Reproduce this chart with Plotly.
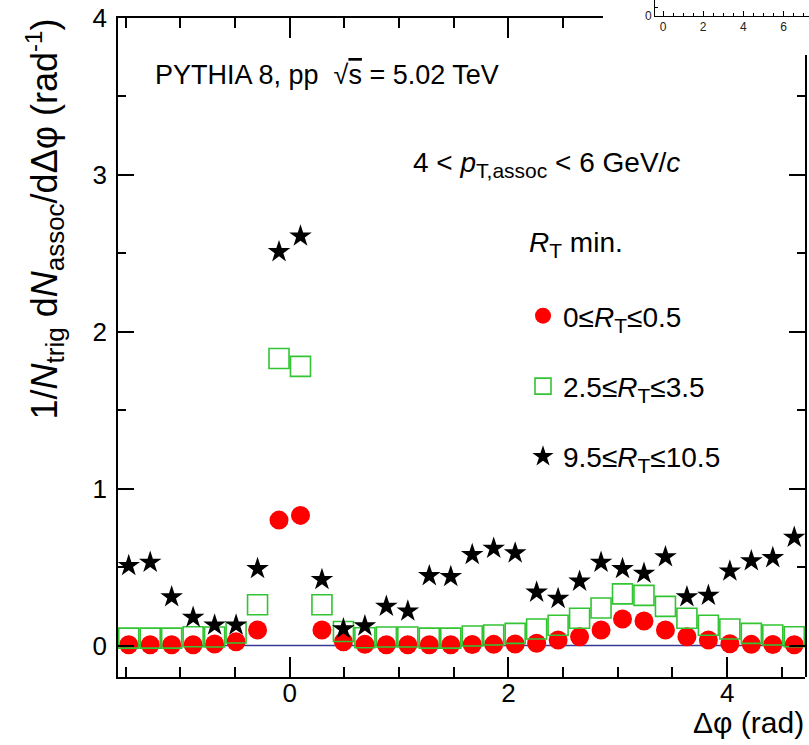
import numpy as np
import plotly.graph_objects as go

# ---------------- data ----------------
n_bins = 32
bin_edges = np.linspace(-np.pi / 2, 3 * np.pi / 2, n_bins + 1)
dphi = 0.5 * (bin_edges[:-1] + bin_edges[1:])

rt_low = [0.005, 0.005, 0.005, 0.005, 0.01, 0.025, 0.10, 0.80, 0.83, 0.10, 0.025, 0.008,
          0.005, 0.005, 0.005, 0.005, 0.007, 0.008, 0.01, 0.015, 0.036, 0.057, 0.10, 0.17,
          0.157, 0.10, 0.057, 0.036, 0.012, 0.008, 0.007, 0.005]
rt_mid = [0.048, 0.048, 0.048, 0.057, 0.055, 0.08, 0.26, 1.83, 1.78, 0.26, 0.09, 0.05,
          0.055, 0.055, 0.048, 0.048, 0.061, 0.068, 0.078, 0.106, 0.13, 0.174, 0.24, 0.33,
          0.32, 0.25, 0.174, 0.13, 0.106, 0.078, 0.068, 0.057]
rt_high = [0.51, 0.53, 0.31, 0.18, 0.13, 0.13, 0.49, 2.51, 2.61, 0.42, 0.106, 0.125,
           0.25, 0.22, 0.445, 0.44, 0.58, 0.62, 0.59, 0.34, 0.30, 0.41, 0.53, 0.49,
           0.46, 0.565, 0.31, 0.32, 0.475, 0.54, 0.56, 0.69]

SUB = '<sub><span style="font-size:21px">{}</span></sub>'
series_names = ["0≤<i>R</i>" + SUB.format("T") + "≤0.5",
                "2.5≤<i>R</i>" + SUB.format("T") + "≤3.5",
                "9.5≤<i>R</i>" + SUB.format("T") + "≤10.5"]

x_range = [-np.pi / 2, 3 * np.pi / 2]
y_range = [-0.2, 4.0]
x_tick_vals = [0, 2, 4]
y_tick_vals = [0, 1, 2, 3, 4]
inset_x_tick_vals = [0, 2, 4, 6]
inset_x_tick_text = ["0", "2", "4", "6"]

# ---------------- geometry helpers (pixels -> paper) ----------------
W, H = 809, 745
ML, MB = 118, 68
PW, PH = W - ML, H - MB          # paper area (no right / top margin)
FR_L, FR_R, FR_T, FR_B = 118, 805, 18, 677   # main frame in pixels


def px_x(p):
    return (p - ML) / PW


def px_y(p):
    return 1 - p / PH


# where the neighbouring panel's white box cuts the frame
cut_x_px, cut_y_px = 603, 55
x_cut = x_range[0] + (cut_x_px - FR_L) / (FR_R - FR_L) * (x_range[1] - x_range[0])
y_cut = y_range[0] + (FR_B - cut_y_px) / (FR_B - FR_T) * (y_range[1] - y_range[0])

FONT = "Liberation Sans, Arial, Helvetica, sans-serif"
FS = 28

fig = go.Figure()

fig.add_trace(go.Scatter(
    x=dphi, y=rt_low, mode="markers", name=series_names[0], legendgroup="a",
    marker=dict(symbol="circle", size=19, color="#ff0000", line=dict(width=0)),
))
fig.add_trace(go.Scatter(
    x=dphi, y=rt_mid, mode="markers", name=series_names[1], legendgroup="b",
    marker=dict(symbol="square-open", size=20, color="#33c433", line=dict(width=1.6, color="#33c433")),
))
fig.add_trace(go.Scatter(
    x=dphi, y=rt_high, mode="markers", name=series_names[2], legendgroup="c",
    marker=dict(symbol="star", size=17, color="black", line=dict(width=0)),
))
# empty traces so that the frame-piece and inset subplots exist
for xa, ya in [("x4", "y"), ("x", "y4"), ("x3", "y3")]:
    fig.add_trace(go.Scatter(x=[None], y=[None], xaxis=xa, yaxis=ya, mode="markers",
                             showlegend=False, hoverinfo="skip"))

fig.add_hline(y=0, line=dict(color="#3a3a96", width=1.5), layer="below")

tick_font = dict(family=FONT, size=26, color="black")
common = dict(showline=True, linecolor="black", linewidth=1.5, mirror=False,
              ticks="inside", tickcolor="black", tickwidth=1.5,
              showgrid=False, zeroline=False, automargin=False)
x_minor = dict(dtick=0.5, tick0=0, ticklen=10, ticks="inside", tickcolor="black", tickwidth=1.5)
y_minor = dict(dtick=0.5, tick0=0, ticklen=8, ticks="inside", tickcolor="black", tickwidth=1.5)

fig.update_layout(
    template="none",
    width=W, height=H,
    margin=dict(l=ML, r=0, t=0, b=MB, pad=0),
    paper_bgcolor="white", plot_bgcolor="rgba(0,0,0,0)",
    font=dict(family=FONT, size=FS, color="black"),
    xaxis=dict(domain=[0, px_x(FR_R)], range=x_range, tickvals=x_tick_vals,
               ticklen=20, minor=x_minor, ticklabelstandoff=-8, tickfont=tick_font,
               anchor="y", **common),
    yaxis=dict(domain=[0, px_y(FR_T)], range=y_range, tickvals=y_tick_vals,
               ticklen=16, minor=y_minor, ticklabelstandoff=4, tickfont=tick_font,
               anchor="x", **common),
    # top frame piece (stops where the neighbouring panel begins)
    xaxis4=dict(domain=[0, px_x(cut_x_px)], range=[x_range[0], x_cut], anchor="y",
                side="top", tickvals=x_tick_vals, ticklen=20, minor=x_minor,
                showticklabels=False, **common),
    # right frame piece
    yaxis4=dict(domain=[0, px_y(cut_y_px)], range=[y_range[0], y_cut], anchor="x",
                side="right", tickvals=y_tick_vals, ticklen=16, minor=y_minor,
                showticklabels=False, **common),
    # inset: fragment of the neighbouring panel's axes
    xaxis3=dict(domain=[px_x(655), 1], anchor="y3",
                range=[(655 - 663) / 20.1, (W - 663) / 20.1],
                tickvals=inset_x_tick_vals, ticktext=inset_x_tick_text,
                showline=True, linecolor="black", linewidth=1, ticks="inside",
                ticklen=5, tickwidth=1, tickcolor="black",
                minor=dict(dtick=0.5, tick0=0, ticklen=3, ticks="inside", tickcolor="black", tickwidth=1),
                showgrid=False, zeroline=False, automargin=False,
                tickfont=dict(family=FONT, size=12, color="#222")),
    yaxis3=dict(domain=[px_y(16), 1], anchor="x3", range=[0, 1.8],
                tickvals=[0, 1], ticktext=["0", ""],
                showline=True, linecolor="black", linewidth=1, ticks="inside",
                ticklen=3, tickwidth=1, tickcolor="black",
                showgrid=False, zeroline=False, automargin=False,
                tickfont=dict(family=FONT, size=12, color="#222")),
    legend=dict(x=px_x(523), y=px_y(291), xanchor="left", yanchor="top",
                bgcolor="rgba(0,0,0,0)", borderwidth=0,
                font=dict(family=FONT, size=FS, color="black"),
                traceorder="grouped", tracegroupgap=31, itemsizing="trace"),
    showlegend=True,
)

annotations = [
    dict(text="PYTHIA 8, pp  √<span style=\"text-decoration:overline\">s</span> = 5.02 TeV",
         x=px_x(153), y=px_y(75), xanchor="left", yanchor="middle", size=27),
    dict(text="4 < <i>p</i>" + SUB.format("T,assoc") + " < 6 GeV/<i>c</i>",
         x=px_x(411), y=px_y(165), xanchor="left", yanchor="middle", size=FS),
    dict(text="<i>R</i>" + SUB.format("T") + " min.",
         x=px_x(527), y=px_y(244), xanchor="left", yanchor="middle", size=FS),
    dict(text="Δφ (rad)", x=px_x(806), y=px_y(722), xanchor="right", yanchor="middle", size=30),
    dict(text="1/<i>N</i><sub><span style=\"font-size:26px\">trig</span></sub> d<i>N</i>"
              "<sub><span style=\"font-size:26px\">assoc</span></sub>/dΔφ (rad"
              "<sup><span style=\"font-size:24px\">-1</span></sup>)",
         x=px_x(45), y=px_y(17), xanchor="center", yanchor="top", textangle=-90, size=36),
]
for a in annotations:
    size = a.pop("size")
    fig.add_annotation(xref="paper", yref="paper", showarrow=False,
                       font=dict(family=FONT, size=size, color="black"), **a)

fig.write_html("out.html", config={"displayModeBar": False},
               post_script="document.body.style.margin='0px';")
